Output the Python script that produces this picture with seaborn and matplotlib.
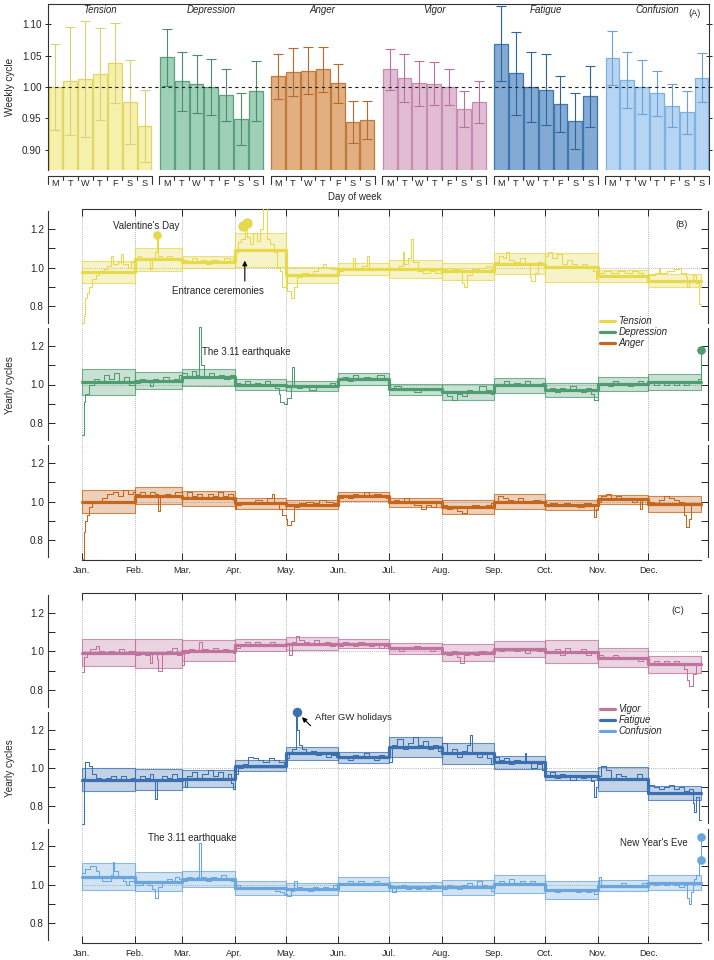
import numpy as np
import matplotlib
matplotlib.use("Agg")
import matplotlib.pyplot as plt
from matplotlib.colors import to_rgba
from matplotlib.lines import Line2D
import seaborn as sns

# ---------------- data ----------------
emotions = ["Tension", "Depression", "Anger", "Vigor", "Fatigue", "Confusion"]
weekdays = ["M", "T", "W", "T", "F", "S", "S"]
months = ["Jan.", "Feb.", "Mar.", "Apr.", "May.", "Jun.", "Jul.", "Aug.", "Sep.", "Oct.", "Nov.", "Dec."]
month_starts = [0, 31, 59, 90, 120, 151, 181, 212, 243, 273, 304, 334, 365]

# weekly cycle (panel A): mean and error half-width per weekday
tension_week = [1.000, 1.009, 1.013, 1.021, 1.038, 0.976, 0.938]
tension_week_err = [0.068, 0.086, 0.092, 0.073, 0.063, 0.067, 0.058]
depression_week = [1.047, 1.009, 1.005, 1.000, 0.987, 0.949, 0.994]
depression_week_err = [0.045, 0.047, 0.046, 0.044, 0.041, 0.041, 0.048]
anger_week = [1.017, 1.024, 1.026, 1.028, 1.006, 0.944, 0.948]
anger_week_err = [0.036, 0.038, 0.037, 0.036, 0.031, 0.033, 0.030]
vigor_week = [1.028, 1.014, 1.006, 1.005, 1.000, 0.965, 0.976]
vigor_week_err = [0.033, 0.038, 0.036, 0.034, 0.029, 0.028, 0.033]
fatigue_week = [1.069, 1.022, 1.000, 0.996, 0.973, 0.946, 0.985]
fatigue_week_err = [0.060, 0.066, 0.055, 0.057, 0.045, 0.045, 0.049]
confusion_week = [1.046, 1.011, 1.000, 0.990, 0.970, 0.960, 1.015]
confusion_week_err = [0.043, 0.044, 0.043, 0.036, 0.034, 0.034, 0.039]

# yearly cycle: monthly mean and band half-width
tension_month = [0.978, 1.043, 1.030, 1.090, 0.960, 0.992, 0.992, 0.980, 1.020, 1.002, 0.955, 0.932]
tension_month_half = [0.058, 0.060, 0.030, 0.088, 0.042, 0.030, 0.045, 0.043, 0.053, 0.075, 0.030, 0.033]
depression_month = [1.015, 1.020, 1.038, 1.000, 0.993, 1.030, 0.975, 0.962, 0.995, 0.972, 1.003, 1.012]
depression_month_half = [0.068, 0.045, 0.045, 0.028, 0.025, 0.030, 0.027, 0.040, 0.040, 0.036, 0.036, 0.042]
anger_month = [1.000, 1.031, 1.018, 0.990, 0.984, 1.026, 0.995, 0.973, 1.000, 0.982, 1.012, 0.988]
anger_month_half = [0.058, 0.043, 0.039, 0.028, 0.022, 0.022, 0.022, 0.037, 0.039, 0.024, 0.024, 0.040]
vigor_month = [0.993, 0.989, 1.004, 1.031, 1.040, 1.040, 1.015, 0.993, 1.010, 0.998, 0.966, 0.933]
vigor_month_half = [0.069, 0.074, 0.054, 0.031, 0.034, 0.022, 0.029, 0.043, 0.042, 0.060, 0.050, 0.045]
fatigue_month = [0.940, 0.940, 0.945, 1.013, 1.078, 1.056, 1.108, 1.078, 1.029, 0.960, 0.945, 0.871]
fatigue_month_half = [0.058, 0.056, 0.045, 0.029, 0.034, 0.030, 0.053, 0.055, 0.036, 0.023, 0.062, 0.036]
confusion_month = [1.042, 1.016, 1.030, 0.984, 0.978, 1.002, 0.990, 0.987, 1.003, 0.971, 0.996, 1.011]
confusion_month_half = [0.069, 0.050, 0.042, 0.037, 0.031, 0.037, 0.025, 0.040, 0.047, 0.047, 0.031, 0.039]

# daily curves as (day of year, value) steps
tension_steps = [(0, 0.71), (1, 0.75), (2, 0.84), (3, 0.87), (4, 0.90), (6, 0.94), (8, 0.96), (10, 0.98), (13, 0.99),
                 (15, 1.01), (17, 1.06), (18, 1.02), (21, 1.03), (23, 1.07), (24, 1.02), (27, 1.00), (29, 1.03),
                 (31, 1.05), (33, 1.06), (35, 1.04), (38, 1.05), (40, 0.99), (41, 1.05), (43, 1.08), (44, 1.17),
                 (45, 1.06), (47, 1.04), (50, 1.06), (53, 1.04), (56, 1.05), (59, 1.04), (62, 1.03), (65, 1.05),
                 (68, 1.03), (70, 1.04), (73, 1.02), (76, 1.04), (80, 1.03), (84, 1.05), (87, 1.03), (89, 1.05),
                 (90, 1.08), (92, 1.13), (94, 1.15), (96, 1.20), (97, 1.16), (99, 1.12), (101, 1.18), (103, 1.14),
                 (105, 1.20), (107, 1.32), (109, 1.15), (111, 1.12), (113, 1.08), (115, 1.00), (117, 0.98),
                 (118, 0.90), (120, 0.96), (121, 0.88), (123, 0.84), (125, 0.90), (127, 0.95), (130, 0.97),
                 (133, 0.96), (136, 0.98), (139, 1.00), (142, 1.02), (144, 1.00), (147, 0.99), (151, 0.98),
                 (154, 0.99), (157, 1.00), (160, 1.05), (161, 1.00), (165, 1.01), (168, 1.06), (169, 1.00),
                 (173, 1.00), (176, 0.99), (181, 1.00), (184, 0.99), (187, 1.01), (189, 1.08), (190, 1.02),
                 (192, 1.05), (194, 1.15), (195, 1.03), (198, 0.98), (201, 0.97), (205, 0.98), (208, 0.97),
                 (212, 0.99), (215, 1.00), (218, 0.99), (222, 1.00), (224, 0.92), (225, 0.90), (227, 0.96),
                 (230, 0.99), (234, 1.00), (238, 1.01), (241, 0.99), (243, 1.03), (246, 1.06), (248, 1.05),
                 (250, 1.08), (252, 1.04), (255, 1.03), (258, 1.05), (261, 1.02), (264, 0.95), (265, 0.93),
                 (267, 0.97), (269, 1.03), (271, 1.02), (273, 1.06), (275, 1.08), (277, 1.05), (280, 1.07),
                 (283, 1.02), (286, 1.04), (289, 1.02), (292, 1.01), (295, 1.02), (298, 1.00), (301, 0.98),
                 (303, 0.94), (304, 0.97), (308, 0.98), (312, 0.97), (316, 0.98), (320, 0.97), (324, 0.98),
                 (328, 0.97), (331, 0.96), (334, 0.96), (338, 0.97), (340, 1.00), (341, 0.97), (345, 0.98),
                 (349, 0.99), (352, 1.00), (353, 0.97), (356, 0.95), (357, 0.90), (358, 0.93), (360, 0.96),
                 (362, 0.92), (364, 0.81), (365, 0.81)]
depression_steps = [(0, 0.74), (1, 0.91), (2, 0.95), (4, 1.00), (7, 1.03), (10, 1.02), (13, 1.05), (16, 1.03),
                    (19, 1.06), (22, 1.02), (25, 1.04), (28, 1.00), (31, 1.01), (34, 1.03), (37, 1.02), (40, 0.99),
                    (42, 1.03), (45, 1.02), (48, 1.04), (51, 1.02), (54, 1.03), (57, 1.05), (59, 1.06), (62, 1.04),
                    (65, 1.07), (67, 1.05), (69, 1.30), (70, 1.10), (72, 1.04), (75, 1.06), (78, 1.04), (81, 1.05),
                    (84, 1.03), (87, 1.05), (90, 1.01), (93, 0.99), (96, 1.02), (99, 1.00), (102, 1.01), (105, 0.99),
                    (108, 1.02), (111, 1.00), (114, 0.98), (116, 0.95), (117, 0.91), (119, 0.90), (121, 0.93),
                    (123, 1.00), (124, 1.09), (125, 1.00), (127, 0.98), (130, 0.99), (134, 0.97), (138, 1.00),
                    (142, 0.99), (146, 1.01), (149, 1.00), (151, 1.03), (154, 1.04), (157, 1.02), (160, 1.05),
                    (163, 1.03), (166, 1.04), (170, 1.03), (174, 1.05), (178, 1.03), (181, 0.98), (184, 0.99),
                    (188, 0.97), (192, 0.98), (196, 0.96), (200, 0.98), (204, 0.97), (208, 0.98), (212, 0.96),
                    (215, 0.94), (218, 0.92), (221, 0.95), (224, 0.94), (227, 0.97), (230, 0.96), (234, 0.99),
                    (238, 0.97), (241, 0.95), (243, 1.00), (246, 0.99), (249, 1.02), (252, 1.00), (255, 1.01),
                    (258, 0.99), (261, 1.02), (264, 1.00), (268, 0.99), (271, 1.01), (273, 0.97), (276, 0.98),
                    (279, 0.96), (282, 0.98), (285, 0.97), (288, 0.99), (291, 0.97), (294, 0.96), (297, 0.98),
                    (300, 0.95), (302, 0.92), (304, 1.00), (307, 1.01), (310, 0.99), (313, 1.02), (316, 1.00),
                    (319, 1.01), (322, 0.99), (325, 1.00), (328, 1.02), (331, 1.00), (334, 1.01), (337, 1.00),
                    (340, 1.02), (343, 1.00), (346, 1.01), (349, 1.00), (352, 1.02), (355, 1.00), (358, 1.02),
                    (361, 1.01), (363, 1.03), (365, 1.18)]
anger_steps = [(0, 0.70), (1, 0.84), (2, 0.90), (3, 0.93), (4, 0.97), (6, 0.99), (9, 1.00), (12, 1.02), (15, 1.04),
               (18, 1.05), (21, 1.03), (24, 1.06), (27, 1.04), (30, 1.05), (31, 1.04), (34, 1.05), (37, 1.03),
               (40, 1.05), (43, 1.04), (45, 0.95), (46, 1.03), (49, 1.04), (52, 1.03), (55, 1.05), (59, 1.02),
               (62, 1.05), (65, 1.03), (68, 1.04), (71, 1.02), (74, 1.04), (77, 1.03), (80, 1.05), (83, 1.03),
               (86, 1.04), (89, 1.01), (90, 0.96), (91, 0.98), (94, 0.99), (98, 1.00), (102, 1.01), (106, 1.00),
               (109, 1.02), (112, 1.04), (113, 1.00), (116, 0.96), (118, 0.93), (120, 0.91), (121, 0.88),
               (123, 0.90), (125, 0.97), (128, 0.99), (132, 1.00), (136, 0.99), (140, 1.01), (144, 1.00),
               (148, 0.99), (151, 1.02), (154, 1.03), (157, 1.02), (160, 1.04), (163, 1.03), (166, 1.05),
               (169, 1.03), (172, 1.04), (176, 1.03), (179, 1.02), (181, 1.00), (184, 1.01), (187, 0.99),
               (190, 1.02), (193, 0.99), (196, 0.98), (200, 0.96), (203, 0.98), (206, 0.97), (209, 0.99),
               (212, 0.98), (215, 0.96), (218, 0.97), (221, 0.95), (224, 0.94), (227, 0.97), (230, 0.98),
               (234, 0.97), (238, 0.98), (241, 0.99), (243, 1.00), (245, 1.03), (248, 1.02), (251, 1.01),
               (254, 1.00), (257, 1.02), (260, 1.00), (263, 0.99), (266, 1.01), (270, 1.00), (273, 0.98),
               (276, 0.99), (280, 0.98), (284, 0.99), (288, 0.98), (292, 0.97), (296, 0.99), (300, 0.98),
               (302, 0.92), (303, 0.96), (304, 1.00), (306, 1.03), (309, 1.04), (312, 1.02), (315, 1.03),
               (318, 1.01), (321, 1.02), (324, 1.00), (327, 1.02), (329, 0.96), (330, 1.01), (334, 1.00),
               (337, 0.99), (340, 1.01), (343, 1.03), (346, 1.02), (349, 1.01), (352, 1.00), (355, 0.93),
               (356, 0.87), (358, 0.91), (359, 0.98), (362, 0.99), (365, 0.97)]
vigor_steps = [(0, 0.89), (1, 0.97), (3, 0.99), (5, 1.01), (8, 1.03), (10, 1.00), (13, 0.99), (16, 1.00), (19, 0.99),
               (22, 1.01), (25, 0.99), (28, 1.00), (31, 0.98), (34, 0.99), (37, 0.98), (40, 0.94), (41, 0.99),
               (44, 0.96), (45, 0.90), (47, 0.99), (50, 1.00), (53, 1.02), (56, 0.98), (59, 0.93), (60, 0.99),
               (63, 1.01), (66, 1.00), (69, 1.05), (71, 1.01), (74, 1.00), (77, 1.02), (80, 1.00), (83, 1.01),
               (86, 1.00), (89, 0.99), (90, 1.02), (93, 1.03), (96, 1.05), (99, 1.04), (102, 1.05), (105, 1.04),
               (108, 1.03), (111, 1.05), (114, 1.04), (117, 1.03), (120, 1.04), (122, 0.98), (124, 1.05),
               (126, 1.08), (128, 1.06), (131, 1.05), (134, 1.04), (137, 1.06), (140, 1.04), (143, 1.05),
               (146, 1.03), (149, 1.04), (151, 1.03), (154, 1.05), (157, 1.04), (160, 1.03), (163, 1.05),
               (166, 1.04), (169, 1.03), (172, 1.04), (175, 1.02), (178, 1.03), (181, 1.01), (184, 1.02),
               (187, 1.00), (190, 1.02), (193, 1.01), (196, 1.03), (199, 1.01), (202, 1.02), (205, 1.00),
               (208, 1.01), (212, 0.99), (215, 0.98), (218, 1.00), (221, 0.97), (223, 0.94), (225, 0.98),
               (228, 0.99), (231, 0.98), (234, 1.00), (238, 0.99), (241, 1.00), (243, 1.01), (246, 1.00),
               (249, 1.02), (252, 1.01), (255, 1.00), (258, 1.02), (261, 0.99), (264, 1.01), (268, 1.00),
               (271, 1.01), (273, 1.00), (276, 0.99), (279, 1.01), (282, 0.98), (285, 1.02), (288, 1.00),
               (291, 0.99), (294, 1.01), (297, 0.98), (300, 1.00), (302, 0.99), (304, 0.98), (307, 0.97),
               (310, 0.96), (313, 0.98), (316, 0.97), (319, 0.96), (322, 0.97), (325, 0.96), (328, 0.95),
               (331, 0.96), (334, 0.94), (337, 0.95), (340, 0.94), (343, 0.95), (346, 0.94), (349, 0.95),
               (352, 0.93), (355, 0.91), (357, 0.85), (358, 0.82), (360, 0.88), (362, 0.93), (365, 0.95)]
fatigue_steps = [(0, 0.71), (1, 0.95), (2, 1.03), (4, 1.01), (6, 0.97), (8, 0.95), (11, 0.93), (14, 0.95), (17, 0.96),
                 (20, 0.94), (23, 0.96), (26, 0.94), (29, 0.95), (31, 0.93), (34, 0.96), (37, 0.95), (40, 0.97),
                 (42, 0.93), (43, 0.84), (44, 0.93), (47, 0.96), (50, 0.95), (53, 0.97), (56, 0.95), (59, 0.94),
                 (61, 0.90), (62, 0.96), (65, 0.98), (68, 0.95), (71, 0.97), (74, 0.99), (77, 0.96), (80, 0.98),
                 (83, 0.95), (86, 0.97), (88, 0.92), (89, 0.89), (90, 0.97), (92, 1.00), (95, 1.02), (98, 1.06),
                 (101, 1.05), (104, 1.04), (107, 1.03), (110, 1.05), (113, 1.04), (116, 1.03), (119, 1.02),
                 (120, 1.05), (122, 1.08), (124, 1.10), (126, 1.29), (127, 1.20), (128, 1.12), (130, 1.10),
                 (132, 1.08), (135, 1.09), (138, 1.07), (141, 1.08), (144, 1.06), (147, 1.07), (150, 1.06),
                 (151, 1.05), (154, 1.06), (157, 1.04), (160, 1.07), (163, 1.05), (166, 1.08), (169, 1.06),
                 (172, 1.04), (175, 1.07), (178, 1.05), (181, 1.03), (183, 1.12), (186, 1.15), (189, 1.10),
                 (192, 1.13), (195, 1.16), (198, 1.12), (201, 1.14), (204, 1.10), (207, 1.12), (210, 1.09),
                 (212, 1.13), (215, 1.08), (218, 1.10), (221, 1.06), (224, 1.09), (227, 1.12), (229, 1.17),
                 (230, 1.08), (233, 1.06), (236, 1.08), (239, 1.05), (241, 1.02), (243, 1.06), (246, 1.04),
                 (249, 1.05), (252, 1.02), (255, 1.04), (258, 1.03), (261, 1.08), (262, 1.03), (265, 1.00),
                 (268, 1.02), (271, 0.99), (273, 0.96), (276, 0.98), (279, 0.95), (282, 0.97), (285, 0.96),
                 (288, 0.94), (291, 0.96), (294, 0.95), (297, 0.96), (300, 0.93), (302, 0.85), (303, 0.90),
                 (304, 0.96), (306, 1.01), (309, 0.99), (312, 0.95), (315, 0.97), (318, 0.96), (321, 0.94),
                 (324, 0.95), (327, 0.97), (330, 0.95), (333, 0.93), (334, 0.91), (337, 0.90), (340, 0.89),
                 (343, 0.90), (346, 0.91), (349, 0.89), (352, 0.90), (355, 0.88), (358, 0.89), (360, 0.82),
                 (361, 0.77), (362, 0.85), (364, 0.73), (365, 0.73)]
confusion_steps = [(0, 1.06), (2, 1.08), (5, 1.10), (8, 1.07), (10, 1.04), (12, 1.02), (15, 1.02), (17, 1.05),
                   (18, 1.12), (19, 1.07), (21, 1.04), (24, 1.02), (26, 1.00), (28, 1.02), (31, 1.00), (33, 1.00),
                   (36, 1.01), (39, 1.00), (41, 0.98), (43, 0.93), (45, 0.99), (47, 1.02), (50, 1.03), (53, 1.01),
                   (55, 1.04), (57, 1.03), (59, 1.02), (62, 1.04), (65, 1.03), (68, 1.04), (69, 1.22), (70, 1.04),
                   (73, 1.02), (76, 1.04), (79, 1.03), (82, 1.05), (85, 1.03), (88, 1.02), (90, 1.00), (93, 0.99),
                   (96, 0.98), (99, 0.99), (102, 0.98), (105, 0.99), (108, 0.98), (111, 0.99), (114, 0.97),
                   (117, 0.96), (119, 0.95), (121, 0.94), (123, 0.97), (125, 1.02), (127, 0.99), (130, 0.98),
                   (133, 0.97), (136, 0.99), (139, 0.98), (142, 0.99), (145, 0.98), (148, 1.00), (151, 1.01),
                   (154, 1.00), (157, 1.02), (160, 1.01), (163, 1.02), (166, 1.00), (169, 1.01), (172, 1.02),
                   (175, 1.00), (178, 1.01), (181, 1.00), (183, 0.96), (185, 0.99), (188, 1.00), (191, 0.98),
                   (194, 0.99), (197, 0.98), (200, 0.99), (203, 0.98), (206, 1.00), (209, 0.99), (212, 0.98),
                   (215, 1.00), (218, 0.99), (221, 0.98), (224, 1.00), (227, 1.01), (230, 0.99), (233, 1.02),
                   (236, 1.00), (239, 0.99), (241, 0.97), (243, 1.01), (246, 1.02), (249, 1.00), (252, 1.03),
                   (255, 1.01), (258, 1.02), (261, 1.00), (264, 1.02), (267, 1.01), (270, 1.00), (273, 0.97),
                   (276, 0.98), (279, 0.96), (282, 0.97), (285, 0.98), (288, 0.97), (291, 0.96), (294, 0.97),
                   (297, 0.96), (300, 0.97), (302, 0.95), (304, 1.00), (305, 1.04), (306, 1.00), (309, 0.99),
                   (312, 1.00), (315, 0.99), (318, 1.01), (321, 1.00), (324, 0.99), (327, 1.00), (330, 1.01),
                   (333, 1.00), (334, 1.01), (337, 1.00), (340, 1.01), (343, 1.00), (346, 1.01), (349, 1.00),
                   (352, 0.99), (355, 1.00), (357, 0.93), (358, 0.90), (359, 0.96), (360, 1.00), (361, 1.03),
                   (362, 1.05), (364, 1.13), (365, 1.25)]

# highlighted days
valentine_day, valentine_val = [44.5], [1.17]
entrance_days, entrance_vals = [95.0, 97.5], [1.215, 1.23]
gw_day, gw_val = [126.5], [1.29]
dep_end_day, dep_end_val = [365], [1.18]
nye_days, nye_vals = [365, 365], [1.13, 1.25]

# ---------------- style ----------------
sns.set_theme(style="ticks")
plt.rcParams["font.family"] = ["Liberation Sans", "DejaVu Sans"]
plt.rcParams["axes.edgecolor"] = "#333333"
plt.rcParams["axes.linewidth"] = 0.8

bar_fill = ["#F5F0AA", "#9DD0B7", "#E1AF82", "#E1BDD4", "#82AAD3", "#B5D5F2"]
bar_edge = ["#E2D66A", "#5E9F80", "#C27A3A", "#C98AAF", "#3F76AE", "#7FB2E2"]
err_col = ["#DCD077", "#4E8D6C", "#B86A2C", "#B9729C", "#2F64A0", "#6CA2D6"]
line_col = ["#E6D94C", "#4E9C70", "#C4661C", "#C0739E", "#3A6FB0", "#6AA6DC"]

week_vals = [tension_week, depression_week, anger_week, vigor_week, fatigue_week, confusion_week]
week_errs = [tension_week_err, depression_week_err, anger_week_err, vigor_week_err, fatigue_week_err,
             confusion_week_err]

W, H = 714, 960
fig = plt.figure(figsize=(W / 100, H / 100), dpi=100)


def px_axes(x0, y0, x1, y1):
    return fig.add_axes([x0 / W, 1 - y1 / H, (x1 - x0) / W, (y1 - y0) / H])


FS = 6.6

# ---------------- panel A ----------------
axA = px_axes(48, 4, 709, 170)
gap = 7.5
for g, emo in enumerate(emotions):
    pos = g * gap + np.arange(7)
    sns.barplot(x=pos, y=week_vals[g], native_scale=True, width=0.93, color=bar_fill[g],
                edgecolor=bar_edge[g], linewidth=0.9, saturation=1, errorbar=None, ax=axA, zorder=2)
    axA.errorbar(pos, week_vals[g], yerr=week_errs[g], fmt="none", ecolor=err_col[g],
                 elinewidth=0.8, capsize=3.5, capthick=0.8, zorder=3)
    axA.text(g * gap + 3, 1.122, emo, ha="center", va="center", style="italic", fontsize=FS + 0.4)
    # day-of-week bracket under each group
    x0, x1 = g * gap - 0.5, g * gap + 6.5
    tr = axA.get_xaxis_transform()
    axA.plot([x0, x1], [-0.036, -0.036], color="#333333", lw=0.8, transform=tr, clip_on=False)
    for k in range(8):
        ylo = -0.085 if k in (0, 7) else -0.06
        axA.plot([x0 + k, x0 + k], [-0.036, ylo], color="#333333", lw=0.8, transform=tr, clip_on=False)
    for k, d in enumerate(weekdays):
        axA.text(g * gap + k, -0.08, d, ha="center", va="center", fontsize=FS, transform=tr)

axA.axhline(1.0, color="#222222", ls=(0, (3, 3)), lw=0.8, zorder=5)
axA.set_xlim(-0.5, 44.0)
axA.set_ylim(0.868, 1.132)
axA.set_xticks([])
axA.set_xlabel("")
axA.set_yticks([0.90, 0.95, 1.00, 1.05, 1.10])
axA.set_yticklabels(["0.90", "0.95", "1.00", "1.05", "1.10"])
axA.tick_params(axis="y", which="both", left=True, right=True, direction="out", length=3,
                width=0.7, labelsize=FS + 0.6, pad=2)
axA.tick_params(axis="y", which="both", right=True, direction="inout", length=5)
axA.spines["bottom"].set_visible(False)
axA.set_ylabel("")
axA.text(43.0, 1.117, "(A)", ha="center", va="center", fontsize=FS)
fig.text(10 / W, 1 - 87 / H, "Weekly cycle", rotation=90, ha="center", va="center", fontsize=FS + 0.6)
fig.text(355 / W, 1 - 197 / H, "Day of week", ha="center", va="center", fontsize=FS + 0.4)


# ---------------- panels B and C ----------------
def yearly_axis(ax, top=False, bottom=False):
    ax.patch.set_visible(False)
    ax.set_xlim(-20.05, 369.1)
    ax.set_ylim(0.696, 1.304)
    for s in ["left", "right"]:
        ax.spines[s].set_bounds(0.712, 1.292)
    ax.spines["top"].set_visible(top)
    ax.spines["top"].set_bounds(0, 365)
    ax.spines["bottom"].set_visible(bottom)
    ax.spines["bottom"].set_bounds(0, 365)
    ax.set_yticks([0.8, 1.0, 1.2])
    ax.set_yticklabels(["0.8", "1.0", "1.2"])
    ax.set_yticks([0.9, 1.1], minor=True)
    ax.tick_params(axis="y", which="both", left=True, right=True, direction="in", length=5, width=0.7,
                   labelsize=FS + 0.6, pad=3)
    ax.set_xticks(month_starts[:-1])
    ax.set_xticklabels(months if bottom else [""] * 12)
    ax.tick_params(axis="x", top=top, bottom=bottom, direction="in", length=5, width=0.7,
                   labelsize=FS, pad=4)
    for m in month_starts[:-1]:
        ax.axvline(m, color="#9a9a9a", ls=(0, (1, 1.5)), lw=0.6, zorder=0)
    ax.plot([0, 365], [1, 1], color="#9a9a9a", ls=(0, (1, 1.5)), lw=0.6, zorder=1)
    ax.set_xlabel("")
    ax.set_ylabel("")


def draw_year(ax, steps, mean, half, color):
    starts = np.array(month_starts[:-1])
    widths = np.diff(month_starts)
    mean = np.array(mean)
    half = np.array(half)
    ax.bar(starts, 2 * half, bottom=mean - half, width=widths, align="edge",
           facecolor=to_rgba(color, 0.3), edgecolor=to_rgba(color, 0.75), linewidth=0.8, zorder=2)
    sns.lineplot(x=month_starts, y=list(mean) + [mean[-1]], drawstyle="steps-post", color=color,
                 linewidth=2.3, errorbar=None, ax=ax, zorder=3)
    days, vals = zip(*steps)
    sns.lineplot(x=list(days), y=list(vals), drawstyle="steps-post", color=color, linewidth=0.75,
                 errorbar=None, ax=ax, zorder=4)


groups = [
    (209, 117.0, [(tension_steps, tension_month, tension_month_half),
                  (depression_steps, depression_month, depression_month_half),
                  (anger_steps, anger_month, anger_month_half)], [0, 1, 2]),
    (593, 116.7, [(vigor_steps, vigor_month, vigor_month_half),
                  (fatigue_steps, fatigue_month, fatigue_month_half),
                  (confusion_steps, confusion_month, confusion_month_half)], [3, 4, 5]),
]
axes_sets = []
for top_px, hh, series, idx in groups:
    axs = []
    for i, (steps, mean, half) in enumerate(series):
        ax = px_axes(48, top_px + i * hh, 708, top_px + (i + 1) * hh)
        draw_year(ax, steps, mean, half, line_col[idx[i]])
        yearly_axis(ax, top=(i == 0), bottom=(i == 2))
        axs.append(ax)
    axes_sets.append(axs)

axT, axD, axAn = axes_sets[0]
axV, axF, axC = axes_sets[1]

# panel B annotations
axT.plot(valentine_day, valentine_val, "o", ms=5.2, color=line_col[0], zorder=6, clip_on=False)
axT.text(38, 1.218, "Valentine's Day", ha="center", va="center", fontsize=FS + 0.4)
axT.plot(entrance_days, entrance_vals, "o", ms=6.5, color=line_col[0], zorder=6, clip_on=False)
axT.annotate("", xy=(96, 1.05), xytext=(96, 0.915),
             arrowprops=dict(arrowstyle="-|>", color="black", lw=0.8, mutation_scale=7), zorder=7)
axT.text(80, 0.877, "Entrance ceremonies", ha="center", va="center", fontsize=FS + 0.4)
axT.text(353.5, 1.223, "(B)", ha="center", va="center", fontsize=FS)
axD.text(70.5, 1.17, "The 3.11 earthquake", ha="left", va="center", fontsize=FS + 0.4)
axD.plot(dep_end_day, dep_end_val, "o", ms=5.2, color=line_col[1], zorder=6, clip_on=False)

# panel C annotations
axV.text(351, 1.213, "(C)", ha="center", va="center", fontsize=FS)
axF.plot(gw_day, gw_val, "o", ms=5.8, color=line_col[4], zorder=6, clip_on=False)
axF.annotate("", xy=(128.5, 1.275), xytext=(136, 1.21),
             arrowprops=dict(arrowstyle="-|>", color="black", lw=0.8, mutation_scale=7), zorder=7)
axF.text(137.5, 1.262, "After GW holidays", ha="left", va="center", fontsize=FS + 0.2)
axC.text(65, 1.245, "The 3.11 earthquake", ha="center", va="center", fontsize=FS + 0.4)
axC.text(337, 1.22, "New Year's Eve", ha="center", va="center", fontsize=FS + 0.4)
axC.plot(nye_days, nye_vals, "o", ms=5.2, color=line_col[5], zorder=6, clip_on=False)

fig.text(10 / W, 1 - 385 / H, "Yearly cycles", rotation=90, ha="center", va="center", fontsize=FS + 0.6)
fig.text(10 / W, 1 - 768 / H, "Yearly cycles", rotation=90, ha="center", va="center", fontsize=FS + 0.6)

# legends
for names, cols, top_px in [(emotions[:3], line_col[:3], 316), (emotions[3:], line_col[3:], 704)]:
    handles = [Line2D([], [], color=c, lw=2.3) for c in cols]
    fig.legend(handles, names, loc="upper left", bbox_to_anchor=(600 / W, 1 - top_px / H),
               frameon=False, prop={"size": FS + 0.4, "style": "italic"}, handlelength=1.5,
               handletextpad=0.4, labelspacing=0.12, borderpad=0, borderaxespad=0)

fig.savefig("out.png", dpi=100)
